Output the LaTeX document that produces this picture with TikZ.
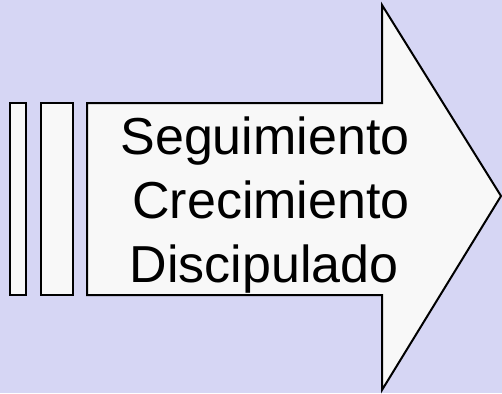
\documentclass[tikz,border=0pt]{standalone}
\usepackage{fontspec}
\setmainfont{Liberation Sans}
\definecolor{bgcol}{RGB}{214,214,244}
\definecolor{fillcol}{RGB}{248,248,248}
\begin{document}
\begin{tikzpicture}[x=1pt,y=-1pt,
  part/.style={draw=black,fill=fillcol,line width=2pt,line join=miter},
  lbl/.style={anchor=base,inner sep=0pt,font=\fontsize{52}{64}\selectfont}]
\fill[bgcol] (0,0) rectangle (502,393);
\useasboundingbox (0,0) rectangle (502,393);
\draw[part] (10,103) rectangle (26,295);
\draw[part] (40.5,103) rectangle (72.5,295);
\draw[part] (87,103) -- (382,103) -- (382,5) -- (501,196) -- (382,390) -- (382,295) -- (87,295) -- cycle;
\node[lbl] (l1) at (265,154) {Seguimiento};
\node[lbl] (l2) at (271,218) {Crecimiento};
\node[lbl] (l3) at (264,282) {Discipulado};
\end{tikzpicture}
\end{document}
